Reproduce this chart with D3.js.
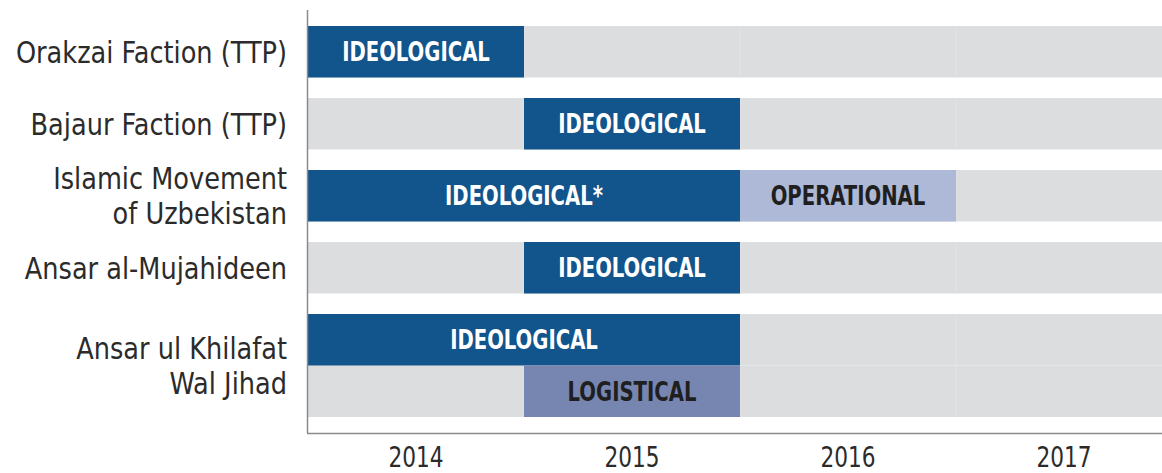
<!DOCTYPE html>
<html>
<head>
<meta charset="utf-8">
<script src="https://cdn.jsdelivr.net/npm/d3@7"></script>
<style>
  body { margin: 0; background: #fff; }
  svg text { font-family: "Liberation Sans Narrow", "DejaVu Sans Condensed", "Roboto", sans-serif; }
</style>
</head>
<body>
<div id="chart"></div>
<script>
// groups on the left, each with one or more lanes
var groups = [
  ["Orakzai Faction (TTP)"],
  ["Bajaur Faction (TTP)"],
  ["Islamic Movement", "of Uzbekistan"],
  ["Ansar al-Mujahideen"],
  ["Ansar ul Khilafat", "Wal Jihad"]
];
var laneCount = [1, 1, 1, 1, 2];

// segments: group, lane, start year, end year, kind, label
var segGroup = [0, 1, 2, 2, 3, 4, 4];
var segLane  = [0, 0, 0, 0, 0, 0, 1];
var segStart = [2014, 2015, 2014, 2016, 2015, 2014, 2015];
var segEnd   = [2015, 2016, 2016, 2017, 2016, 2016, 2016];
var segKind  = ["ideo", "ideo", "ideo", "oper", "ideo", "ideo", "logi"];
var segLabel = ["IDEOLOGICAL", "IDEOLOGICAL", "IDEOLOGICAL*", "OPERATIONAL", "IDEOLOGICAL", "IDEOLOGICAL", "LOGISTICAL"];

var years = [2014, 2015, 2016, 2017];
var yearLabels = ["2014", "2015", "2016", "2017"];

var W = 1162, H = 473;
var colors = { ideo: "#12548c", oper: "#adb9d6", logi: "#7686b1" };
var textColors = { ideo: "#fff", oper: "#1f1f1f", logi: "#1f1f1f" };

var x = d3.scaleLinear().domain([2014, 2018]).range([308, 1172]);
var gy = d3.scaleLinear().domain([0, 1]).range([26, 98]); // group index -> top
var laneH = 51.5;

var svg = d3.select("#chart").append("svg")
    .attr("width", W)
    .attr("height", H);

// grey lanes
var lanes = [];
laneCount.forEach((n, g) => { for (var j = 0; j < n; j++) lanes.push({ g: g, j: j }); });

svg.selectAll(".lane")
    .data(lanes)
    .enter().append("rect")
    .attr("class", "lane")
    .attr("x", x(2014))
    .attr("y", d => gy(d.g) + d.j * laneH)
    .attr("width", x(2018) - x(2014))
    .attr("height", laneH)
    .attr("fill", "#dcdddf");

// faint year boundaries inside lanes
lanes.forEach(d => {
  [2015, 2016, 2017].forEach(yr => {
    svg.append("line")
      .attr("x1", x(yr)).attr("x2", x(yr))
      .attr("y1", gy(d.g) + d.j * laneH)
      .attr("y2", gy(d.g) + (d.j + 1) * laneH)
      .attr("stroke", "#e3e4e6")
      .attr("stroke-width", 1);
  });
});

var segs = segGroup.map((g, i) => ({
  g: g, j: segLane[i], s: segStart[i], e: segEnd[i], k: segKind[i], t: segLabel[i]
}));

svg.selectAll(".seg")
    .data(segs)
    .enter().append("rect")
    .attr("class", "seg")
    .attr("x", d => x(d.s))
    .attr("y", d => gy(d.g) + d.j * laneH)
    .attr("width", d => x(d.e) - x(d.s))
    .attr("height", laneH)
    .attr("fill", d => colors[d.k]);

// squeeze text horizontally to mimic the condensed face
svg.selectAll(".segtext")
    .data(segs)
    .enter().append("text")
    .attr("class", "segtext")
    .attr("transform", d => "translate(" + (x(d.s) + x(d.e)) / 2 + "," + (gy(d.g) + d.j * laneH + laneH / 2) + ") scale(0.84,1)")
    .attr("dy", "0.36em")
    .attr("text-anchor", "middle")
    .attr("font-size", 26)
    .attr("font-weight", "bold")
    .attr("fill", d => textColors[d.k])
    .text(d => d.t);

// group labels
groups.forEach((lines, g) => {
  var cy = gy(g) + laneCount[g] * laneH / 2;
  var lh = 35;
  var t = svg.append("text")
    .attr("transform", "translate(287," + cy + ") scale(0.95,1)")
    .attr("text-anchor", "end")
    .attr("font-size", 30)
    .attr("fill", "#2b2b2b");
  lines.forEach((ln, i) => {
    t.append("tspan")
      .attr("x", 0)
      .attr("y", (i - (lines.length - 1) / 2) * lh)
      .attr("dy", "0.36em")
      .text(ln);
  });
});

// axes
svg.append("line")
    .attr("x1", 307.5).attr("x2", 307.5)
    .attr("y1", 10).attr("y2", 433)
    .attr("stroke", "#8a8a8a").attr("stroke-width", 1.5);

var xAxis = svg.append("g")
    .attr("transform", "translate(0,433)")
    .call(d3.axisBottom(x)
      .tickValues(years.map(d => d + 0.5))
      .tickFormat((d, i) => yearLabels[i])
      .tickSize(0)
      .tickPadding(14));
xAxis.select(".domain")
    .attr("d", "M307,0.5H" + W)
    .attr("stroke", "#8a8a8a").attr("stroke-width", 1.5);
xAxis.selectAll(".tick text")
    .attr("font-size", 28)
    .attr("font-family", "Liberation Sans Narrow, DejaVu Sans Condensed, sans-serif")
    .attr("fill", "#2b2b2b")
    .attr("transform", "scale(0.86,1)");
xAxis.selectAll(".tick")
    .attr("transform", d => "translate(" + x(d) + ",0)");
</script>
</body>
</html>
